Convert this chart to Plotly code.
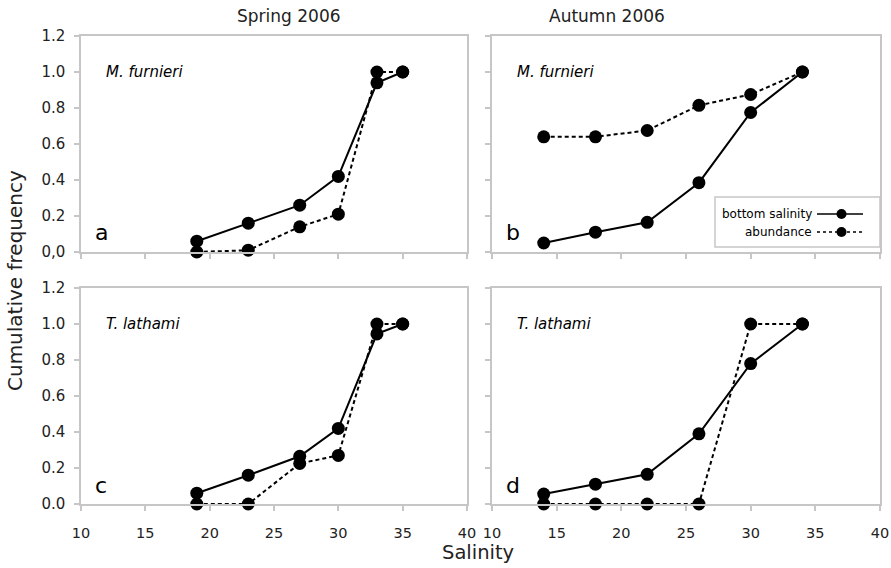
import plotly.graph_objects as go

# Cumulative frequency of bottom salinity and of abundance, by season and species
spring_sal = [19, 23, 27, 30, 33, 35]
autumn_sal = [14, 18, 22, 26, 30, 34]

furnieri_spring_bottom = [0.06, 0.16, 0.26, 0.42, 0.94, 1.0]
furnieri_spring_abund = [0.0, 0.01, 0.14, 0.21, 1.0, 1.0]
furnieri_autumn_bottom = [0.05, 0.11, 0.165, 0.385, 0.775, 1.0]
furnieri_autumn_abund = [0.64, 0.64, 0.675, 0.815, 0.875, 1.0]

lathami_spring_bottom = [0.06, 0.16, 0.265, 0.42, 0.945, 1.0]
lathami_spring_abund = [0.0, 0.0, 0.225, 0.27, 1.0, 1.0]
lathami_autumn_bottom = [0.055, 0.11, 0.165, 0.39, 0.78, 1.0]
lathami_autumn_abund = [0.0, 0.0, 0.0, 0.0, 1.0, 1.0]

x_ticks = [10, 15, 20, 25, 30, 35, 40]
y_ticks = [0.0, 0.2, 0.4, 0.6, 0.8, 1.0, 1.2]
y_text_a = ["0,0", "0.2", "0.4", "0.6", "0.8", "1.0", "1.2"]
y_text_c = ["0.0", "0.2", "0.4", "0.6", "0.8", "1.0", "1.2"]

W, H = 891, 568
FONT = "DejaVu Sans, Verdana, sans-serif"
FRAME = "#c6c6c6"
TXT = "#222222"

def px_x(p):
    return p / W

def px_y(p):
    return 1 - p / H

panels = [
    # axis suffix, x px range, y px range, salinity, bottom, abundance, species, letter, ytext, xlabels
    ("", (81, 467), (36, 252), spring_sal, furnieri_spring_bottom, furnieri_spring_abund,
     "M. furnieri", "a", y_text_a, False),
    ("2", (492, 880), (36, 252), autumn_sal, furnieri_autumn_bottom, furnieri_autumn_abund,
     "M. furnieri", "b", None, False),
    ("3", (81, 467), (288, 504), spring_sal, lathami_spring_bottom, lathami_spring_abund,
     "T. lathami", "c", y_text_c, True),
    ("4", (492, 880), (288, 504), autumn_sal, lathami_autumn_bottom, lathami_autumn_abund,
     "T. lathami", "d", None, True),
]

fig = go.Figure()
layout = dict(
    width=W, height=H,
    margin=dict(l=0, r=0, t=0, b=0, pad=0, autoexpand=False),
    paper_bgcolor="white", plot_bgcolor="white",
    showlegend=False,
    font=dict(family=FONT, color=TXT, size=13),
)
annotations = []
shapes = []

for suf, (x0, x1), (y0, y1), sal, bottom, abund, species, letter, ytext, xlabels in panels:
    xa, ya = "x" + suf, "y" + suf
    fig.add_trace(go.Scatter(
        x=sal, y=bottom, xaxis=xa, yaxis=ya, mode="lines+markers",
        line=dict(color="black", width=2),
        marker=dict(color="black", size=13), cliponaxis=False,
        name="bottom salinity"))
    fig.add_trace(go.Scatter(
        x=sal, y=abund, xaxis=xa, yaxis=ya, mode="lines+markers",
        line=dict(color="black", width=2, dash="4px,3px"),
        marker=dict(color="black", size=13), cliponaxis=False,
        name="abundance"))
    xkey = "xaxis" + suf
    ykey = "yaxis" + suf
    layout[xkey] = dict(
        domain=[px_x(x0), px_x(x1)], range=[10, 40], anchor=ya,
        tickvals=x_ticks, showticklabels=xlabels, automargin=False,
        showgrid=False, zeroline=False, showline=True, mirror=True,
        linecolor=FRAME, linewidth=1.5, ticks="outside", ticklen=5,
        tickcolor=FRAME, tickwidth=1.5, ticklabelstandoff=10,
        tickfont=dict(family=FONT, size=14.5, color=TXT),
    )
    layout[ykey] = dict(
        domain=[px_y(y1), px_y(y0)], range=[0, 1.2], anchor=xa,
        tickvals=y_ticks, ticktext=ytext if ytext else None,
        showticklabels=ytext is not None, automargin=False,
        showgrid=False, zeroline=False, showline=True, mirror=True,
        linecolor=FRAME, linewidth=1.5, ticks="outside", ticklen=5,
        tickcolor=FRAME, tickwidth=1.5, ticklabelstandoff=6,
        tickfont=dict(family=FONT, size=15, color=TXT),
    )
    # species name and panel letter
    annotations.append(dict(
        x=px_x(x0 + 23), y=px_y(y0 + 36), xref="paper", yref="paper",
        text="<i>" + species + "</i>", showarrow=False, xanchor="left",
        yanchor="middle", font=dict(family=FONT, size=15, color="black")))
    annotations.append(dict(
        x=px_x(x0 + 12), y=px_y(y0 + 197), xref="paper", yref="paper",
        text=letter, showarrow=False, xanchor="left", yanchor="middle",
        font=dict(family=FONT, size=22, color="black")))

# column titles and axis titles
annotations += [
    dict(x=px_x(235), y=px_y(16), xref="paper", yref="paper", text="Spring 2006",
         showarrow=False, yanchor="middle", font=dict(family=FONT, size=17, color=TXT)),
    dict(x=px_x(667), y=px_y(16), xref="paper", yref="paper", text="Autumn 2006",
         showarrow=False, yanchor="middle", font=dict(family=FONT, size=17, color=TXT)),
    dict(x=px_x(15), y=px_y(281), xref="paper", yref="paper",
         text="Cumulative frequency", textangle=-90, showarrow=False,
         xanchor="center", yanchor="middle",
         font=dict(family=FONT, size=20, color=TXT)),
    dict(x=px_x(478), y=px_y(552), xref="paper", yref="paper", text="Salinity",
         showarrow=False, yanchor="middle", font=dict(family=FONT, size=19.5, color=TXT)),
]

# legend box inside panel b
lx0, lx1, ly0, ly1 = 715, 880, 197, 247
shapes.append(dict(type="rect", xref="paper", yref="paper",
                   x0=px_x(lx0), x1=px_x(lx1), y0=px_y(ly1), y1=px_y(ly0),
                   line=dict(color=FRAME, width=1.5), fillcolor="white", layer="below"))
legend_rows = [("bottom salinity", 214, "solid"), ("abundance", 232, "dot")]
for label, yy, dash in legend_rows:
    annotations.append(dict(
        x=px_x(814), y=px_y(yy), xref="paper", yref="paper", text=label,
        showarrow=False, xanchor="right", yanchor="middle",
        font=dict(family=FONT, size=12, color="black")))
    shapes.append(dict(type="line", xref="paper", yref="paper",
                       x0=px_x(817), x1=px_x(863), y0=px_y(yy), y1=px_y(yy),
                       line=dict(color="black", width=1.5, dash=dash)))
    shapes.append(dict(type="circle", xref="paper", yref="paper",
                       x0=px_x(836.5), x1=px_x(846.5),
                       y0=px_y(yy + 5), y1=px_y(yy - 5),
                       line=dict(color="black", width=0), fillcolor="black"))

layout["annotations"] = annotations
layout["shapes"] = shapes
fig.update_layout(**layout)

fig.write_html("out.html")
